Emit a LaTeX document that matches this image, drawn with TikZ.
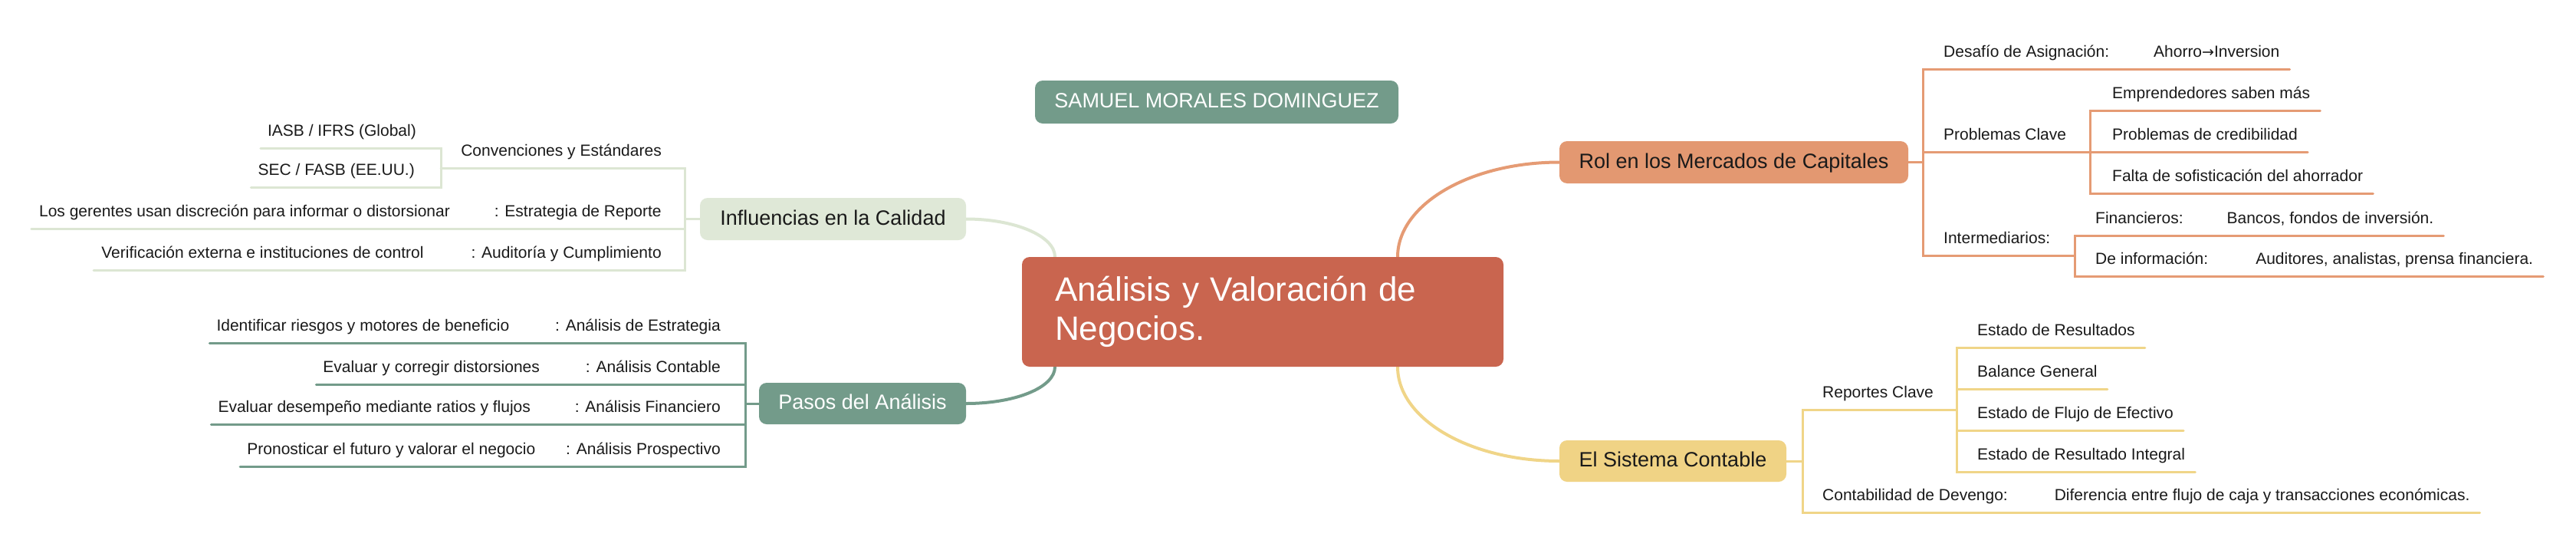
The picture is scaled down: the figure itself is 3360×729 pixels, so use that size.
\documentclass[tikz,border=0pt]{standalone}
\usepackage{fontspec}
\setmainfont{Liberation Sans}
\newfontfamily\arrowfont{DejaVu Sans}
\usetikzlibrary{backgrounds}
\definecolor{cRed}{HTML}{C9654F}
\definecolor{cOrange}{HTML}{E39871}
\definecolor{cOrangeLine}{HTML}{E59B74}
\definecolor{cYellow}{HTML}{F0D385}
\definecolor{cYellowLine}{HTML}{F0D588}
\definecolor{cLight}{HTML}{DFE8D7}
\definecolor{cLightLine}{HTML}{DCE6D3}
\definecolor{cGreen}{HTML}{739B8A}
\definecolor{cText}{HTML}{1A1A1A}
\tikzset{
  topic/.style={rounded corners=10pt, inner sep=0pt, minimum height=55pt,
    text height=20pt, text depth=5pt,
    font=\fontsize{27}{32}\selectfont, text=cText},
  leaf/.style={inner xsep=0pt, inner ysep=0pt, text height=16pt, text depth=15pt,
    font=\fontsize{21}{25}\selectfont, text=cText},
  edge/.style={line width=3pt, line cap=round},
  trunk/.style={line width=4pt, line cap=round},
  rc/.style={rounded corners=8pt}
}
\begin{document}
\begin{tikzpicture}[x=1pt,y=-1pt]
\useasboundingbox (0,0) rectangle (3360,729);

% ---------- main nodes
\node[topic, fill=cGreen, text=white, minimum width=474pt, minimum height=56pt] (author) at (1587,133) {SAMUEL MORALES DOMINGUEZ};
\node[fill=cRed, rounded corners=10pt, minimum width=628pt, minimum height=143pt,
      inner xsep=43pt, inner ysep=0pt, text width=542pt, align=left, text=white,
      font=\fontsize{44}{51}\selectfont] (root) at (1647,406.5) {Análisis y Valoración de\\Negocios.};
\node[topic, fill=cOrange, minimum width=455pt] (rol) at (2261.5,211.5) {Rol en los Mercados de Capitales};
\node[topic, fill=cYellow, minimum width=296pt, minimum height=54pt] (sis) at (2182,601) {El Sistema Contable};
\node[topic, fill=cLight, minimum width=347pt] (inf) at (1086.5,285.5) {Influencias en la Calidad};
\node[topic, fill=cGreen, text=white, minimum width=270pt, minimum height=54pt] (pas) at (1125,526) {Pasos del Análisis};

% ---------- junctions
\coordinate (jR) at (2508,211.5);
\coordinate (jP) at (2726,198);
\coordinate (jI) at (2706,333);
\coordinate (jS) at (2351,601);
\coordinate (jRC) at (2552,534);
\coordinate (jInf) at (893,285.5);
\coordinate (jConv) at (575,219);
\coordinate (jPas) at (972,526);

% ---------- Rol leaves
\node[leaf, anchor=south west] (desafio) at (2535,90) {Desafío de Asignación:\hspace{58pt}Ahorro{\arrowfont\fontsize{19}{25}\selectfont →}Inversion};
\node[leaf, anchor=south west] (probl) at (2535,198) {Problemas Clave};
\node[leaf, anchor=south west] (empr) at (2755,144) {Emprendedores saben más};
\node[leaf, anchor=south west] (cred) at (2755,198) {Problemas de credibilidad};
\node[leaf, anchor=south west] (falta) at (2755,252) {Falta de sofisticación del ahorrador};
\node[leaf, anchor=south west] (inter) at (2535,333) {Intermediarios:};
\node[leaf, anchor=south west] (fin) at (2733,307) {Financieros:\hspace{57pt}Bancos, fondos de inversión.};
\node[leaf, anchor=south west] (deinf) at (2733,360) {De información:\hspace{62pt}Auditores, analistas, prensa financiera.};

% ---------- Sistema leaves
\node[leaf, anchor=south west] (repc) at (2377,534) {Reportes Clave};
\node[leaf, anchor=south west] (er) at (2579,453) {Estado de Resultados};
\node[leaf, anchor=south west] (bg) at (2579,507) {Balance General};
\node[leaf, anchor=south west] (efe) at (2579,561) {Estado de Flujo de Efectivo};
\node[leaf, anchor=south west] (eri) at (2579,615) {Estado de Resultado Integral};
\node[leaf, anchor=south west] (dev) at (2377,668) {Contabilidad de Devengo:\hspace{61pt}Diferencia entre flujo de caja y transacciones económicas.};

% ---------- Influencias leaves
\node[leaf, anchor=south east] (conv) at (863,219) {Convenciones y Estándares};
\node[leaf, anchor=south east] (iasb) at (543,193) {IASB / IFRS (Global)};
\node[leaf, anchor=south east] (sec) at (541,244) {SEC / FASB (EE.UU.)};
\node[leaf, anchor=south east] (estr) at (863,298) {Los gerentes usan discreción para informar o distorsionar\hspace{58pt}: Estrategia de Reporte};
\node[leaf, anchor=south east] (aud) at (863,352) {Verificación externa e instituciones de control\hspace{62pt}: Auditoría y Cumplimiento};

% ---------- Pasos leaves
\node[leaf, anchor=south east] (p1) at (940,447) {Identificar riesgos y motores de beneficio\hspace{60pt}: Análisis de Estrategia};
\node[leaf, anchor=south east] (p2) at (940,501) {Evaluar y corregir distorsiones\hspace{60pt}: Análisis Contable};
\node[leaf, anchor=south east] (p3) at (940,553) {Evaluar desempeño mediante ratios y flujos\hspace{58pt}: Análisis Financiero};
\node[leaf, anchor=south east] (p4) at (940,608) {Pronosticar el futuro y valorar el negocio\hspace{40pt}: Análisis Prospectivo};

\begin{pgfonlayer}{background}
\fill[white] (0,0) rectangle (3360,729);
% trunks
\draw[trunk, cOrangeLine] ([xshift=176pt]root.north) .. controls +(0,-68) and +(-117,0) .. (rol.west);
\draw[trunk, cYellowLine] ([xshift=176pt]root.south) .. controls +(0,68) and +(-117,0) .. (sis.west);
\draw[trunk, cLightLine] ([xshift=-271pt]root.north) .. controls +(0,-27) and +(64,0) .. (inf.east);
\draw[trunk, cGreen] ([xshift=-271pt]root.south) .. controls +(0,27) and +(64,0) .. (pas.east);

% Rol edges
\begin{scope}[edge, draw=cOrangeLine]
\draw (rol.east) -- (jR) -- (jR |- desafio.south) [rc] -- ([xshift=13pt]desafio.south east);
\draw (rol.east) -- (jR) -- (jR |- probl.south) [rc] -- (jP);
\draw (rol.east) -- (jR) -- (jR |- inter.south) [rc] -- (jI);
\draw (jP) -- (jP |- empr.south) [rc] -- ([xshift=13pt]empr.south east);
\draw (jP) -- (jP |- cred.south) [rc] -- ([xshift=13pt]cred.south east);
\draw (jP) -- (jP |- falta.south) [rc] -- ([xshift=13pt]falta.south east);
\draw (jI) -- (jI |- fin.south) [rc] -- ([xshift=13pt]fin.south east);
\draw (jI) -- (jI |- deinf.south) [rc] -- ([xshift=13pt]deinf.south east);
\end{scope}

% Sistema edges
\begin{scope}[edge, draw=cYellowLine]
\draw (sis.east) -- (jS) -- (jS |- repc.south) [rc] -- (jRC);
\draw (sis.east) -- (jS) -- (jS |- dev.south) [rc] -- ([xshift=13pt]dev.south east);
\draw (jRC) -- (jRC |- er.south) [rc] -- ([xshift=13pt]er.south east);
\draw (jRC) -- (jRC |- bg.south) [rc] -- ([xshift=13pt]bg.south east);
\draw (jRC) -- (jRC |- efe.south) [rc] -- ([xshift=13pt]efe.south east);
\draw (jRC) -- (jRC |- eri.south) [rc] -- ([xshift=13pt]eri.south east);
\end{scope}

% Influencias edges
\begin{scope}[edge, draw=cLightLine]
\draw (inf.west) -- (jInf) -- (jInf |- conv.south) [rc] -- (jConv);
\draw (inf.west) -- (jInf) -- (jInf |- estr.south) [rc] -- ([xshift=-10pt]estr.south west);
\draw (inf.west) -- (jInf) -- (jInf |- aud.south) [rc] -- ([xshift=-10pt]aud.south west);
\draw (jConv) -- (jConv |- iasb.south) [rc] -- ([xshift=-9pt]iasb.south west);
\draw (jConv) -- (jConv |- sec.south) [rc] -- ([xshift=-9pt]sec.south west);
\end{scope}

% Pasos edges
\begin{scope}[edge, draw=cGreen]
\draw (pas.west) -- (jPas) -- (jPas |- p1.south) [rc] -- ([xshift=-9pt]p1.south west);
\draw (pas.west) -- (jPas) -- (jPas |- p2.south) [rc] -- ([xshift=-9pt]p2.south west);
\draw (pas.west) -- (jPas) -- (jPas |- p3.south) [rc] -- ([xshift=-9pt]p3.south west);
\draw (pas.west) -- (jPas) -- (jPas |- p4.south) [rc] -- ([xshift=-9pt]p4.south west);
\end{scope}
\end{pgfonlayer}
\end{tikzpicture}
\end{document}
